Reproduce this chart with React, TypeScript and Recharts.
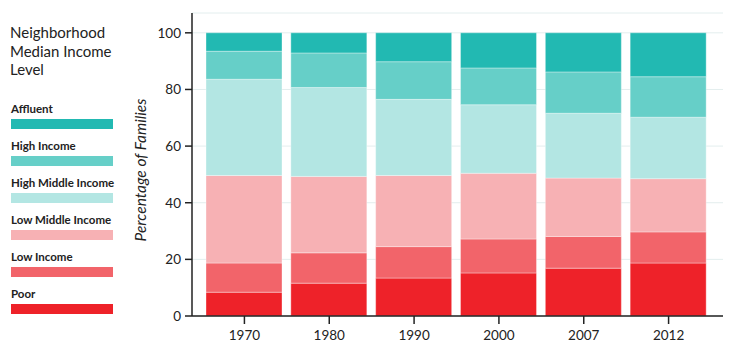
import { Bar, BarChart, CartesianGrid, XAxis, YAxis } from "recharts";

document.body.style.margin = "0";

const years = ["1970", "1980", "1990", "2000", "2007", "2012"];
const poor = [8.4, 11.6, 13.4, 15.2, 16.9, 18.7];
const lowIncome = [10.3, 10.7, 11.1, 12.0, 11.2, 11.0];
const lowMiddle = [30.9, 27.0, 25.1, 23.2, 20.6, 18.8];
const highMiddle = [34.0, 31.4, 26.9, 24.2, 22.9, 21.7];
const highIncome = [9.9, 12.2, 13.3, 13.0, 14.6, 14.3];
const affluent = [6.5, 7.1, 10.2, 12.4, 13.8, 15.5];
const yTicks = [0, 20, 40, 60, 80, 100];

const series = [
  { key: "poor", name: "Poor", color: "#ee2229", values: poor },
  { key: "lowIncome", name: "Low Income", color: "#f2646a", values: lowIncome },
  { key: "lowMiddle", name: "Low Middle Income", color: "#f7b1b4", values: lowMiddle },
  { key: "highMiddle", name: "High Middle Income", color: "#b3e6e3", values: highMiddle },
  { key: "highIncome", name: "High Income", color: "#66cfc8", values: highIncome },
  { key: "affluent", name: "Affluent", color: "#22b9b2", values: affluent },
];

const data = years.map((year, i) => {
  const row: Record<string, string | number> = { year };
  series.forEach((s) => (row[s.key] = s.values[i]));
  return row;
});

const FONT = "Lato, 'Open Sans', sans-serif";
const TICK_STYLE = { fontSize: 13.5, fill: "#222", fontFamily: FONT };

function YLabel() {
  return (
    <text
      x={146}
      y={170}
      transform="rotate(-90 146 170)"
      textAnchor="middle"
      fontSize={15.5}
      fontStyle="italic"
      fill="#222"
      fontFamily={FONT}
    >
      Percentage of Families
    </text>
  );
}

function Legend() {
  const items = [...series].reverse();
  return (
    <div style={{ position: "absolute", left: 10, top: 23, fontFamily: FONT, color: "#222" }}>
      <div style={{ fontSize: 15, lineHeight: "18.5px", width: 130 }}>
        Neighborhood
        <br />
        Median Income
        <br />
        Level
      </div>
      <div style={{ marginTop: 23 }}>
        {items.map((s) => (
          <div key={s.key} style={{ height: 37.2 }}>
            <div style={{ fontSize: 11.5, fontWeight: 700, lineHeight: "14px", paddingLeft: 1 }}>{s.name}</div>
            <div style={{ width: 102, height: 10, background: s.color, marginTop: 3, marginLeft: 1 }} />
          </div>
        ))}
      </div>
    </div>
  );
}

export default function App() {
  return (
    <div style={{ position: "relative", width: 733, height: 357, background: "#fff" }}>
      <Legend />
      <div style={{ position: "absolute", left: 0, top: 0 }}>
        <BarChart
          width={733}
          height={357}
          data={data}
          margin={{ top: 13, right: 10, bottom: 0, left: 132 }}
        >
          <CartesianGrid vertical={false} stroke="#e3eeee" />
          <XAxis
            dataKey="year"
            tick={TICK_STYLE}
            tickSize={8}
            tickMargin={6}
            height={41}
            stroke="#222"
            strokeWidth={1.5}
            padding={{ left: 10, right: 12 }}
          />
          <YAxis
            width={60}
            domain={[0, 107]}
            ticks={yTicks}
            tick={TICK_STYLE}
            tickSize={7}
            tickMargin={4}
            stroke="#222"
            strokeWidth={1.5}
            label={{ content: () => <YLabel /> }}
          />
          {series.map((s) => (
            <Bar
              key={s.key}
              dataKey={s.key}
              name={s.name}
              stackId="a"
              fill={s.color}
              stroke="#ffffff"
              strokeOpacity={0.35}
              strokeWidth={1}
              barSize={76}
              isAnimationActive={false}
            />
          ))}
        </BarChart>
      </div>
    </div>
  );
}
